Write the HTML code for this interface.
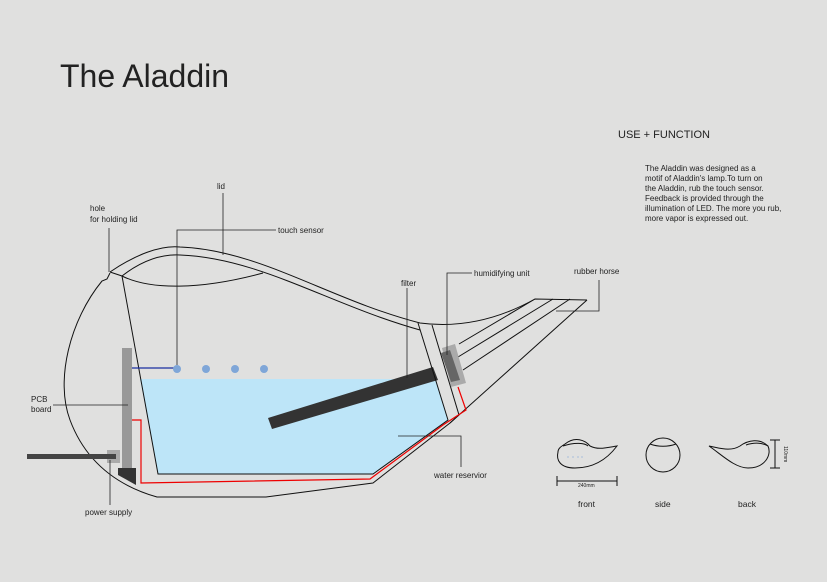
<!DOCTYPE html>
<html><head><meta charset="utf-8"><style>
html,body{margin:0;padding:0;background:#e0e0df;}
svg{display:block;font-family:"Liberation Sans",sans-serif;}
</style></head><body>
<svg width="827" height="582" viewBox="0 0 827 582" xmlns="http://www.w3.org/2000/svg">
<rect width="827" height="582" fill="#e0e0df"/>
<text x="60" y="87" font-size="32" fill="#222">The Aladdin</text>
<text x="618" y="138" font-size="11" fill="#222">USE + FUNCTION</text>
<g font-size="8" fill="#222">
<text x="645" y="171">The Aladdin was designed as a</text>
<text x="645" y="181">motif of  Aladdin's lamp.To turn on</text>
<text x="645" y="191">the Aladdin, rub the touch sensor.</text>
<text x="645" y="201">Feedback is provided through the</text>
<text x="645" y="211">illumination of  LED. The more you rub,</text>
<text x="645" y="221">more vapor is expressed out.</text>
</g>

<polygon points="140,379 436,379 448,420 373,474 158,474" fill="#bde5f8"/>
<polygon points="268,418 433,367 438,380 272,429" fill="#333"/>

<g fill="none" stroke="#111" stroke-width="1">
<path d="M110,273 L107,279 L102,281 C70,320 55,380 70,420 C85,460 115,485 157,497 L266,497 L373,483 L450,423 L587,300"/>
<path d="M110,272 C135,255 160,245 180,247 C260,250 330,300 420,323 C450,327 490,324 535,299 L587,300"/>
<path d="M122,276 C140,262 160,254 180,255 C260,258 330,305 420,330"/>
<path d="M110,272 L122,276 C150,290 200,290 263,273"/>
<path d="M122,276 L158,474 L373,474 L448,420 L418,323"/>
<path d="M432,325 L459,415 L450,423"/>
<path d="M458,357 L553,299 M463,370 L570,299 M459,344 L535,299"/>
</g>

<polygon points="442,348 455,344 466,383 451,387" fill="#aaa"/>
<polygon points="441,353 450,350 460,380 451,382" fill="#666"/>

<polyline points="132,420 141,420 141,483 370,479 443,425 466,410 458,387" fill="none" stroke="#e00" stroke-width="1.2"/>

<rect x="122" y="348" width="10" height="124" fill="#999"/>
<rect x="107" y="450" width="13" height="13" fill="#aaa"/>
<polygon points="118,468 136,468 136,485 118,475" fill="#333"/>
<rect x="27" y="454" width="89" height="5" fill="#444"/>
<line x1="132" y1="368" x2="176" y2="368" stroke="#1a2fa0" stroke-width="1.2"/>
<g fill="#7fa6d8"><circle cx="177" cy="369" r="4"/><circle cx="206" cy="369" r="4"/><circle cx="235" cy="369" r="4"/><circle cx="264" cy="369" r="4"/></g>

<g fill="none" stroke="#222" stroke-width="0.8">
<path d="M223,193 L223,255"/>
<path d="M177,365 L177,230 L276,230"/>
<path d="M109,228 L109,272"/>
<path d="M53,405 L128,405"/>
<path d="M110,460 L110,505"/>
<path d="M407,288 L407,378"/>
<path d="M447,355 L447,273 L472,273"/>
<path d="M556,311 L599,311 L599,280"/>
<path d="M398,436 L461,436 L461,467"/>
</g>
<g font-size="8" fill="#222">
<text x="217" y="189">lid</text>
<text x="278" y="233">touch sensor</text>
<text x="90" y="211">hole</text>
<text x="90" y="222">for holding lid</text>
<text x="31" y="402">PCB</text>
<text x="31" y="412">board</text>
<text x="85" y="515">power supply</text>
<text x="401" y="286">filter</text>
<text x="474" y="276">humidifying unit</text>
<text x="574" y="274">rubber horse</text>
<text x="434" y="478">water reservior</text>
</g>

<g fill="none" stroke="#111" stroke-width="1">
<path d="M565,444 C575,436 585,440 590,446 C598,450 605,448 617,446 C608,458 595,468 575,468 C560,468 556,460 558,452 C558,448 562,446 565,444 Z"/>
<path d="M563,446 C575,442 585,443 588,446"/>
<path d="M557,476 L557,486 M557,481 L617,481 M617,476 L617,486"/>
<circle cx="663" cy="455" r="17"/>
<path d="M650,444 C658,447 668,447 676,444"/>
<path d="M709,446 C720,448 730,452 740,446 C748,440 760,438 768,446 C772,455 765,468 748,468 C735,468 722,455 709,446 Z"/>
<path d="M746,445 C755,442 763,443 768,446"/>
<path d="M770,440 L780,440 M775,440 L775,468 M770,468 L780,468"/>
</g>
<g fill="#7fa6d8"><circle cx="568" cy="457" r="0.6"/><circle cx="573" cy="457" r="0.6"/><circle cx="578" cy="457" r="0.6"/><circle cx="582" cy="457" r="0.6"/></g>
<text x="578" y="487" font-size="5" fill="#222">240mm</text>
<text x="784" y="446" font-size="5" fill="#222" transform="rotate(90 784 446)">110mm</text>
<g font-size="8.5" fill="#222">
<text x="578" y="507">front</text>
<text x="655" y="507">side</text>
<text x="738" y="507">back</text>
</g>
</svg>
</body></html>
